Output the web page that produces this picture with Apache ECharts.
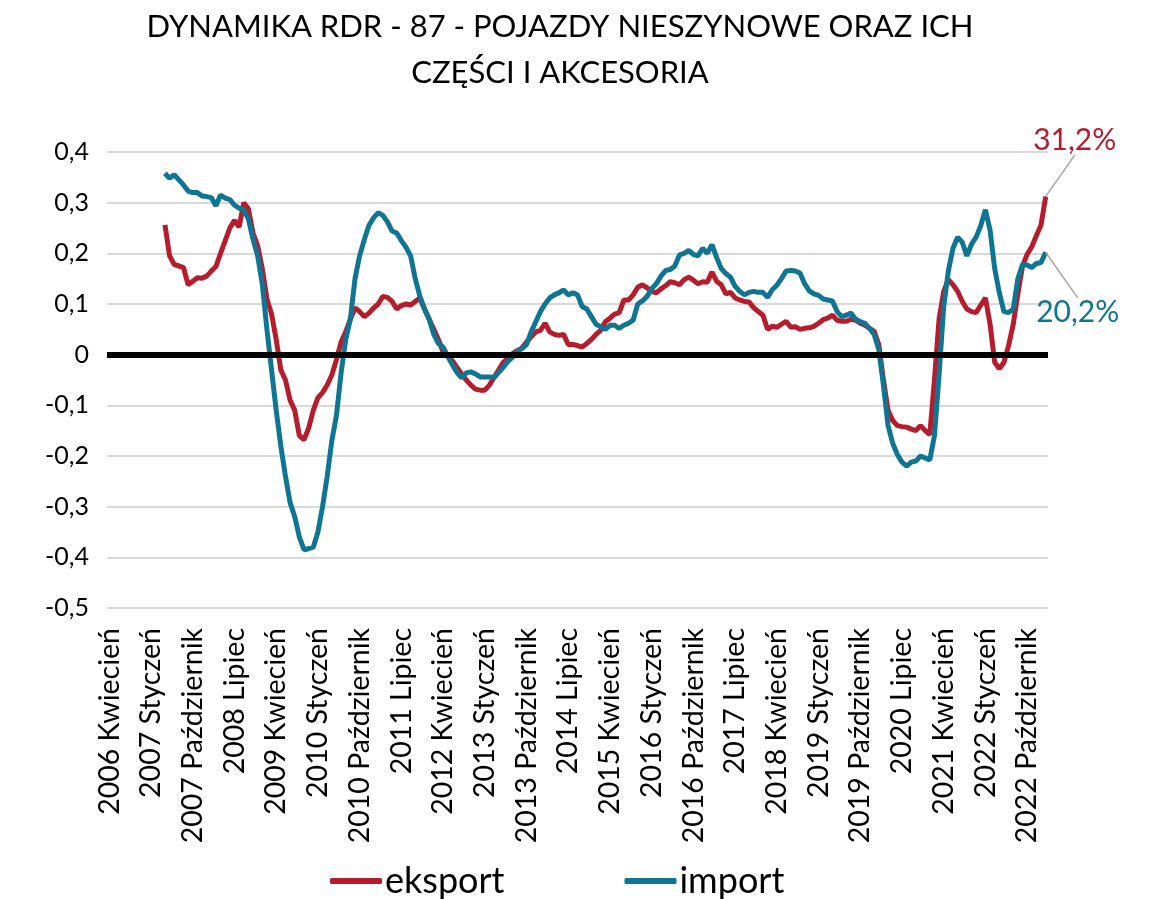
<!DOCTYPE html>
<html>
<head>
<meta charset="utf-8">
<script src="https://cdn.jsdelivr.net/npm/echarts@6/dist/echarts.min.js"></script>
<style>
  html, body { margin: 0; padding: 0; background: #fff; }
  #main { width: 1153px; height: 899px; }
</style>
</head>
<body>
<div id="main"></div>
<script>
    // miesiące osi X: od 2006 Kwiecień do 2023 Luty
    var monthNames = ['Styczeń', 'Luty', 'Marzec', 'Kwiecień', 'Maj', 'Czerwiec',
        'Lipiec', 'Sierpień', 'Wrzesień', 'Październik', 'Listopad', 'Grudzień'];
    var categories = [];
    for (var y = 2006; y <= 2023; y++) {
        for (var m = 0; m < 12; m++) {
            if (y === 2006 && m < 3) continue;
            if (y === 2023 && m > 1) continue;
            categories.push(y + ' ' + monthNames[m]);
        }
    }

    // dane zaczynają się od 2007 Kwiecień (12 pustych miesięcy)
    var startOffset = 12;

    var eksport = [
        0.256, 0.195, 0.178, 0.175, 0.172, 0.138, 0.145, 0.152, 0.151, 0.155, 0.165, 0.174,
        0.200, 0.225, 0.250, 0.265, 0.252, 0.300, 0.288, 0.240, 0.215, 0.170, 0.110, 0.080,
        0.030, -0.030, -0.050, -0.090, -0.110, -0.160, -0.168, -0.145, -0.110, -0.085, -0.075, -0.060,
        -0.040, -0.010, 0.025, 0.045, 0.070, 0.092, 0.085, 0.075, 0.082, 0.092, 0.100, 0.115,
        0.113, 0.105, 0.090, 0.097, 0.100, 0.098, 0.105, 0.112, 0.090, 0.070, 0.050, 0.030,
        0.005, -0.003, -0.012, -0.025, -0.038, -0.050, -0.060, -0.068, -0.070, -0.070, -0.060, -0.045,
        -0.030, -0.015, -0.008, 0.002, 0.008, 0.013, 0.025, 0.035, 0.045, 0.048, 0.062, 0.045,
        0.040, 0.038, 0.040, 0.020, 0.020, 0.018, 0.015, 0.022, 0.030, 0.040, 0.048, 0.065,
        0.072, 0.080, 0.083, 0.108, 0.108, 0.118, 0.133, 0.138, 0.132, 0.125, 0.122, 0.130,
        0.136, 0.144, 0.142, 0.138, 0.148, 0.153, 0.147, 0.140, 0.144, 0.143, 0.163, 0.145,
        0.138, 0.120, 0.123, 0.112, 0.108, 0.105, 0.104, 0.093, 0.085, 0.078, 0.050, 0.056,
        0.054, 0.060, 0.066, 0.054, 0.055, 0.050, 0.052, 0.053, 0.056, 0.062, 0.069, 0.072,
        0.078, 0.068, 0.066, 0.066, 0.070, 0.068, 0.062, 0.058, 0.052, 0.046, 0.020, -0.050,
        -0.110, -0.130, -0.140, -0.142, -0.143, -0.147, -0.150, -0.140, -0.150, -0.158, -0.050, 0.070,
        0.125, 0.148, 0.138, 0.125, 0.105, 0.090, 0.085, 0.083, 0.098, 0.112, 0.060, -0.015,
        -0.028, -0.015, 0.018, 0.060, 0.120, 0.175, 0.198, 0.213, 0.235, 0.256, 0.312
    ];

    var importData = [
        0.358, 0.348, 0.355, 0.345, 0.335, 0.323, 0.320, 0.320, 0.313, 0.312, 0.310, 0.294,
        0.315, 0.309, 0.306, 0.295, 0.289, 0.286, 0.268, 0.228, 0.195, 0.140, 0.050, -0.030,
        -0.110, -0.180, -0.240, -0.292, -0.320, -0.360, -0.385, -0.383, -0.380, -0.350, -0.300, -0.240,
        -0.170, -0.120, -0.036, 0.030, 0.070, 0.150, 0.195, 0.227, 0.255, 0.270, 0.280, 0.275,
        0.262, 0.244, 0.240, 0.225, 0.212, 0.195, 0.150, 0.115, 0.090, 0.070, 0.040, 0.022,
        0.015, -0.003, -0.020, -0.035, -0.046, -0.036, -0.034, -0.038, -0.044, -0.044, -0.044, -0.045,
        -0.035, -0.025, -0.013, -0.005, 0.007, 0.012, 0.020, 0.045, 0.065, 0.085, 0.100, 0.112,
        0.118, 0.122, 0.128, 0.118, 0.122, 0.118, 0.095, 0.090, 0.075, 0.060, 0.055, 0.050,
        0.058, 0.058, 0.052, 0.058, 0.062, 0.068, 0.100, 0.106, 0.115, 0.130, 0.140, 0.155,
        0.166, 0.168, 0.175, 0.197, 0.200, 0.206, 0.198, 0.195, 0.210, 0.200, 0.217, 0.192,
        0.170, 0.160, 0.153, 0.135, 0.125, 0.118, 0.123, 0.125, 0.123, 0.123, 0.113, 0.128,
        0.137, 0.150, 0.165, 0.166, 0.165, 0.161, 0.140, 0.126, 0.120, 0.117, 0.110, 0.108,
        0.106, 0.085, 0.075, 0.078, 0.082, 0.070, 0.065, 0.062, 0.052, 0.040, 0.010, -0.060,
        -0.140, -0.175, -0.197, -0.212, -0.220, -0.212, -0.210, -0.200, -0.204, -0.208, -0.160, -0.040,
        0.095, 0.165, 0.210, 0.232, 0.222, 0.195, 0.218, 0.232, 0.255, 0.286, 0.246, 0.170,
        0.122, 0.085, 0.083, 0.090, 0.150, 0.178, 0.177, 0.172, 0.180, 0.182, 0.202
    ];

    var yTicks = { min: -0.5, max: 0.4, interval: 0.1 };

    var red = '#B71C2C';
    var blue = '#0F7592';
    var fontFam = 'Lato, "Noto Sans", sans-serif';

    // pusty początek + ostatni punkt z widocznym (mikro) symbolem, żeby pokazać etykietę
    function build(arr) {
        var out = [];
        for (var i = 0; i < startOffset; i++) out.push(null);
        for (var j = 0; j < arr.length; j++) {
            if (j === arr.length - 1) {
                out.push({ value: arr[j], symbol: 'circle', symbolSize: 1 });
            } else {
                out.push(arr[j]);
            }
        }
        return out;
    }
    function pct(v) {
        return (v * 100).toFixed(1).replace('.', ',') + '%';
    }
    var lastIdx = startOffset + eksport.length - 1;

    var myChart = echarts.init(document.getElementById('main'));

    var option = {
        backgroundColor: '#fff',
        animation: false,
        textStyle: { fontFamily: fontFam },
        title: {
            text: 'DYNAMIKA RDR - 87 - POJAZDY NIESZYNOWE ORAZ ICH\nCZĘŚCI I AKCESORIA',
            left: 555,
            top: -1,
            textAlign: 'center',
            textStyle: {
                fontFamily: fontFam,
                fontWeight: 'normal',
                fontSize: 31,
                lineHeight: 46,
                color: '#000'
            }
        },
        legend: {
            top: 858,
            left: 325,
            itemGap: 120,
            itemWidth: 52,
            itemHeight: 6,
            icon: 'roundRect',
            textStyle: { fontSize: 36, color: '#000', fontFamily: fontFam, padding: [0, 0, 0, -2] },
            data: ['eksport', 'import']
        },
        grid: {
            left: 107,
            right: 105,
            top: 152,
            bottom: 291
        },
        xAxis: {
            type: 'category',
            data: categories,
            boundaryGap: true,
            axisLine: { show: false },
            axisTick: { show: false },
            axisLabel: {
                interval: 8,
                rotate: 90,
                fontSize: 28.5,
                color: '#000',
                margin: 20,
                fontFamily: fontFam
            },
            splitLine: { show: false }
        },
        yAxis: {
            type: 'value',
            min: yTicks.min,
            max: yTicks.max,
            interval: yTicks.interval,
            axisLine: { show: false },
            axisTick: { show: false },
            axisLabel: {
                fontSize: 25,
                color: '#000',
                margin: 18,
                fontFamily: fontFam,
                formatter: function (v) {
                    var r = Math.round(v * 10) / 10;
                    return r === 0 ? '0' : String(r).replace('.', ',');
                }
            },
            splitLine: { lineStyle: { color: '#d9d9d9', width: 2 } }
        },
        series: [
            {
                name: 'eksport',
                type: 'line',
                data: build(eksport),
                showSymbol: true,
                showAllSymbol: true,
                symbol: 'none',
                lineStyle: { color: red, width: 5 },
                itemStyle: { color: red },
                z: 3,
                label: {
                    show: true,
                    position: 'top',
                    fontSize: 30,
                    color: red,
                    fontFamily: fontFam,
                    formatter: function (p) {
                        return p.dataIndex === lastIdx ? pct(p.value) : '';
                    }
                },
                labelLine: { show: true, lineStyle: { color: '#a6a6a6', width: 1.5 } },
                labelLayout: function (p) {
                    if (p.dataIndex !== lastIdx) return {};
                    return { dx: 29, dy: -36 };
                },
                markLine: {
                    silent: true,
                    symbol: 'none',
                    label: { show: false },
                    lineStyle: { color: '#000', width: 6, type: 'solid' },
                    data: [{ yAxis: 0 }]
                }
            },
            {
                name: 'import',
                type: 'line',
                data: build(importData),
                showSymbol: true,
                showAllSymbol: true,
                symbol: 'none',
                lineStyle: { color: blue, width: 5 },
                itemStyle: { color: blue },
                z: 4,
                label: {
                    show: true,
                    position: 'bottom',
                    fontSize: 30,
                    color: blue,
                    fontFamily: fontFam,
                    formatter: function (p) {
                        return p.dataIndex === lastIdx ? pct(p.value) : '';
                    }
                },
                labelLine: { show: true, lineStyle: { color: '#a6a6a6', width: 1.5 } },
                labelLayout: function (p) {
                    if (p.dataIndex !== lastIdx) return {};
                    return { dx: 32, dy: 40 };
                }
            }
        ]
    };

    myChart.setOption(option);
</script>
</body>
</html>
